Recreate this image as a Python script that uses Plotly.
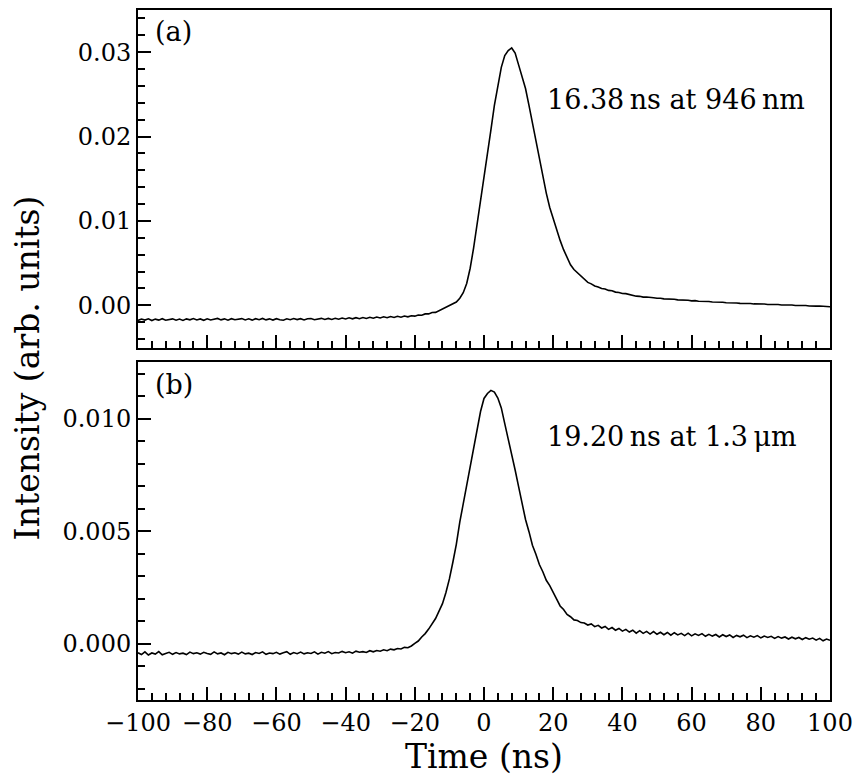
import plotly.graph_objects as go
from plotly.subplots import make_subplots

# Time axis (ns)
time_ns = list(range(-100, 101))

# Panel (a): 946 nm pulse
intensity_a = [
    -0.00178, -0.00162, -0.00174, -0.00160, -0.00180, -0.00163, -0.00175, -0.00158, -0.00176, -0.00166,
    -0.00160, -0.00176, -0.00163, -0.00179, -0.00160, -0.00172, -0.00156, -0.00173, -0.00161, -0.00177,
    -0.00159, -0.00174, -0.00164, -0.00155, -0.00172, -0.00160, -0.00176, -0.00158, -0.00171, -0.00162,
    -0.00157, -0.00173, -0.00160, -0.00175, -0.00158, -0.00170, -0.00155, -0.00172, -0.00160, -0.00174,
    -0.00158, -0.00170, -0.00176, -0.00159, -0.00171, -0.00157, -0.00169, -0.00158, -0.00173, -0.00159,
    -0.00156, -0.00170, -0.00158, -0.00154, -0.00168, -0.00155, -0.00167, -0.00153, -0.00165, -0.00151,
    -0.00162, -0.00148, -0.00160, -0.00146, -0.00158, -0.00144, -0.00155, -0.00141, -0.00153, -0.00139,
    -0.00150, -0.00136, -0.00147, -0.00133, -0.00144, -0.00130, -0.00140, -0.00126, -0.00136, -0.00123,
    -0.00128, -0.00115, -0.00117, -0.00101, -0.00101, -0.00085, -0.00083, -0.00063, -0.00049, -0.00021,
    -0.00008, 0.00015, 0.00040, 0.00085, 0.00150, 0.00260, 0.00440, 0.00680, 0.00950, 0.01250,
    0.01530, 0.01800, 0.02080, 0.02370, 0.02620, 0.02820, 0.02960, 0.03020, 0.03050, 0.02990,
    0.02850, 0.02720, 0.02570, 0.02370, 0.02160, 0.01950, 0.01730, 0.01520, 0.01330, 0.01160,
    0.01020, 0.00890, 0.00770, 0.00660, 0.00560, 0.00480, 0.00425, 0.00385, 0.00345, 0.00315,
    0.00272, 0.00255, 0.00229, 0.00217, 0.00199, 0.00193, 0.00177, 0.00173, 0.00157, 0.00153,
    0.00140, 0.00139, 0.00127, 0.00119, 0.00109, 0.00107, 0.00098, 0.00099, 0.00091, 0.00091,
    0.00084, 0.00085, 0.00077, 0.00078, 0.00071, 0.00072, 0.00065, 0.00066, 0.00059, 0.00061,
    0.00053, 0.00056, 0.00048, 0.00050, 0.00044, 0.00045, 0.00040, 0.00041, 0.00034, 0.00036,
    0.00030, 0.00032, 0.00027, 0.00028, 0.00023, 0.00025, 0.00020, 0.00022, 0.00017, 0.00019,
    0.00014, 0.00016, 0.00011, 0.00013, 0.00008, 0.00010, 0.00005, 0.00007, 0.00002, 0.00004,
    -0.00001, 0.00001, -0.00004, -0.00002, -0.00007, -0.00004, -0.00009, -0.00007, -0.00012, -0.00011,
    -0.00016,
]

# Panel (b): 1.3 um pulse
intensity_b = [
    -0.00040, -0.00048, -0.00036, -0.00050, -0.00041, -0.00046, -0.00035, -0.00049, -0.00043, -0.00038,
    -0.00047, -0.00039, -0.00045, -0.00042, -0.00048, -0.00037, -0.00044, -0.00040, -0.00046, -0.00038,
    -0.00043, -0.00047, -0.00036, -0.00045, -0.00041, -0.00049, -0.00038, -0.00044, -0.00040, -0.00046,
    -0.00037, -0.00045, -0.00042, -0.00048, -0.00039, -0.00043, -0.00036, -0.00047, -0.00041, -0.00044,
    -0.00038, -0.00046, -0.00040, -0.00035, -0.00047, -0.00039, -0.00044, -0.00037, -0.00045, -0.00040,
    -0.00043, -0.00036, -0.00046, -0.00038, -0.00042, -0.00035, -0.00044, -0.00039, -0.00041, -0.00034,
    -0.00040, -0.00036, -0.00042, -0.00033, -0.00038, -0.00035, -0.00039, -0.00031, -0.00036, -0.00030,
    -0.00033, -0.00027, -0.00031, -0.00024, -0.00027, -0.00021, -0.00023, -0.00016, -0.00018, -0.00010,
    0.00002, 0.00012, 0.00030, 0.00045, 0.00065, 0.00088, 0.00112, 0.00145, 0.00178, 0.00228,
    0.00288, 0.00362, 0.00442, 0.00540, 0.00622, 0.00712, 0.00788, 0.00872, 0.00952, 0.01032,
    0.01090, 0.01112, 0.01126, 0.01118, 0.01092, 0.01048, 0.00978, 0.00912, 0.00838, 0.00772,
    0.00698, 0.00628, 0.00552, 0.00498, 0.00438, 0.00398, 0.00352, 0.00320, 0.00282, 0.00258,
    0.00224, 0.00198, 0.00168, 0.00152, 0.00130, 0.00120, 0.00106, 0.00103, 0.00094, 0.00092,
    0.00083, 0.00088, 0.00076, 0.00082, 0.00070, 0.00077, 0.00064, 0.00072, 0.00060, 0.00068,
    0.00056, 0.00064, 0.00052, 0.00060, 0.00047, 0.00058, 0.00046, 0.00055, 0.00043, 0.00054,
    0.00042, 0.00051, 0.00040, 0.00050, 0.00038, 0.00049, 0.00039, 0.00046, 0.00036, 0.00047,
    0.00035, 0.00044, 0.00037, 0.00045, 0.00033, 0.00042, 0.00034, 0.00041, 0.00030, 0.00040,
    0.00032, 0.00039, 0.00028, 0.00037, 0.00031, 0.00038, 0.00027, 0.00035, 0.00029, 0.00036,
    0.00026, 0.00034, 0.00028, 0.00033, 0.00024, 0.00032, 0.00025, 0.00030, 0.00021, 0.00029,
    0.00022, 0.00028, 0.00019, 0.00027, 0.00020, 0.00025, 0.00016, 0.00024, 0.00013, 0.00021,
    0.00015,
]

x_ticks = [-100, -80, -60, -40, -20, 0, 20, 40, 60, 80, 100]
y_ticks_a = [0.00, 0.01, 0.02, 0.03]
y_ticks_b = [0.000, 0.005, 0.010]

label_a = "(a)"
label_b = "(b)"
note_a = "16.38\u2009ns at 946\u2009nm"
note_b = "19.20\u2009ns at 1.3\u2009\u03bcm"
x_title = "Time (ns)"
y_title = "Intensity (arb. units)"

FONT = "DejaVu Serif"

fig = make_subplots(rows=2, cols=1, shared_xaxes=True, vertical_spacing=0.0216)

fig.add_trace(go.Scatter(x=time_ns, y=intensity_a, mode="lines",
                         line=dict(color="black", width=1.6), showlegend=False), row=1, col=1)
fig.add_trace(go.Scatter(x=time_ns, y=intensity_b, mode="lines",
                         line=dict(color="black", width=1.6), showlegend=False), row=2, col=1)

axis_common = dict(showline=True, linecolor="black", linewidth=2, mirror=True,
                   ticks="inside", tickcolor="black", tickwidth=1.5,
                   showgrid=False, zeroline=False,
                   tickfont=dict(family=FONT, size=24, color="black"))

fig.update_xaxes(range=[-100, 100], tickvals=x_ticks, ticklen=13,
                 minor=dict(dtick=4, tick0=0, ticklen=7, ticks="inside", tickcolor="black", tickwidth=1.5, showgrid=False),
                 **axis_common)
fig.update_xaxes(showticklabels=False, row=1, col=1)
fig.update_xaxes(showticklabels=True, row=2, col=1)

fig.update_yaxes(range=[-0.005, 0.035], tickvals=y_ticks_a, tickformat=".2f", ticklen=13,
                 minor=dict(dtick=0.002, tick0=0, ticklen=7, ticks="inside", tickcolor="black", tickwidth=1.5, showgrid=False),
                 row=1, col=1, **axis_common)
fig.update_yaxes(range=[-0.0025, 0.0125], tickvals=y_ticks_b, tickformat=".3f", ticklen=13,
                 minor=dict(dtick=0.001, tick0=0, ticklen=7, ticks="inside", tickcolor="black", tickwidth=1.5, showgrid=False),
                 row=2, col=1, **axis_common)

ann_font = dict(family=FONT, size=27, color="black")
fig.add_annotation(x=-95.7, y=0.0325, xref="x", yref="y", text=label_a, showarrow=False,
                   xanchor="left", yanchor="middle", font=ann_font)
fig.add_annotation(x=17.6, y=0.0244, xref="x", yref="y", text=note_a, showarrow=False,
                   xanchor="left", yanchor="middle", font=ann_font)
fig.add_annotation(x=-95.7, y=0.01153, xref="x2", yref="y2", text=label_b, showarrow=False,
                   xanchor="left", yanchor="middle", font=ann_font)
fig.add_annotation(x=17.6, y=0.00923, xref="x2", yref="y2", text=note_b, showarrow=False,
                   xanchor="left", yanchor="middle", font=ann_font)

title_font = dict(family=FONT, size=33, color="black")
fig.add_annotation(x=0.5, y=-0.0823, xref="paper", yref="paper", text=x_title, showarrow=False,
                   xanchor="center", yanchor="middle", font=title_font)
fig.add_annotation(x=-0.160, y=0.481, xref="paper", yref="paper", text=y_title, showarrow=False,
                   textangle=-90, xanchor="center", yanchor="middle", font=title_font)

# page body adds an 8px offset, so the figure is sized to fill the rest of the window
fig.update_layout(width=855, height=776, margin=dict(l=130, r=33, t=0, b=84),
                  paper_bgcolor="white", plot_bgcolor="white")

fig.write_html("out.html")
